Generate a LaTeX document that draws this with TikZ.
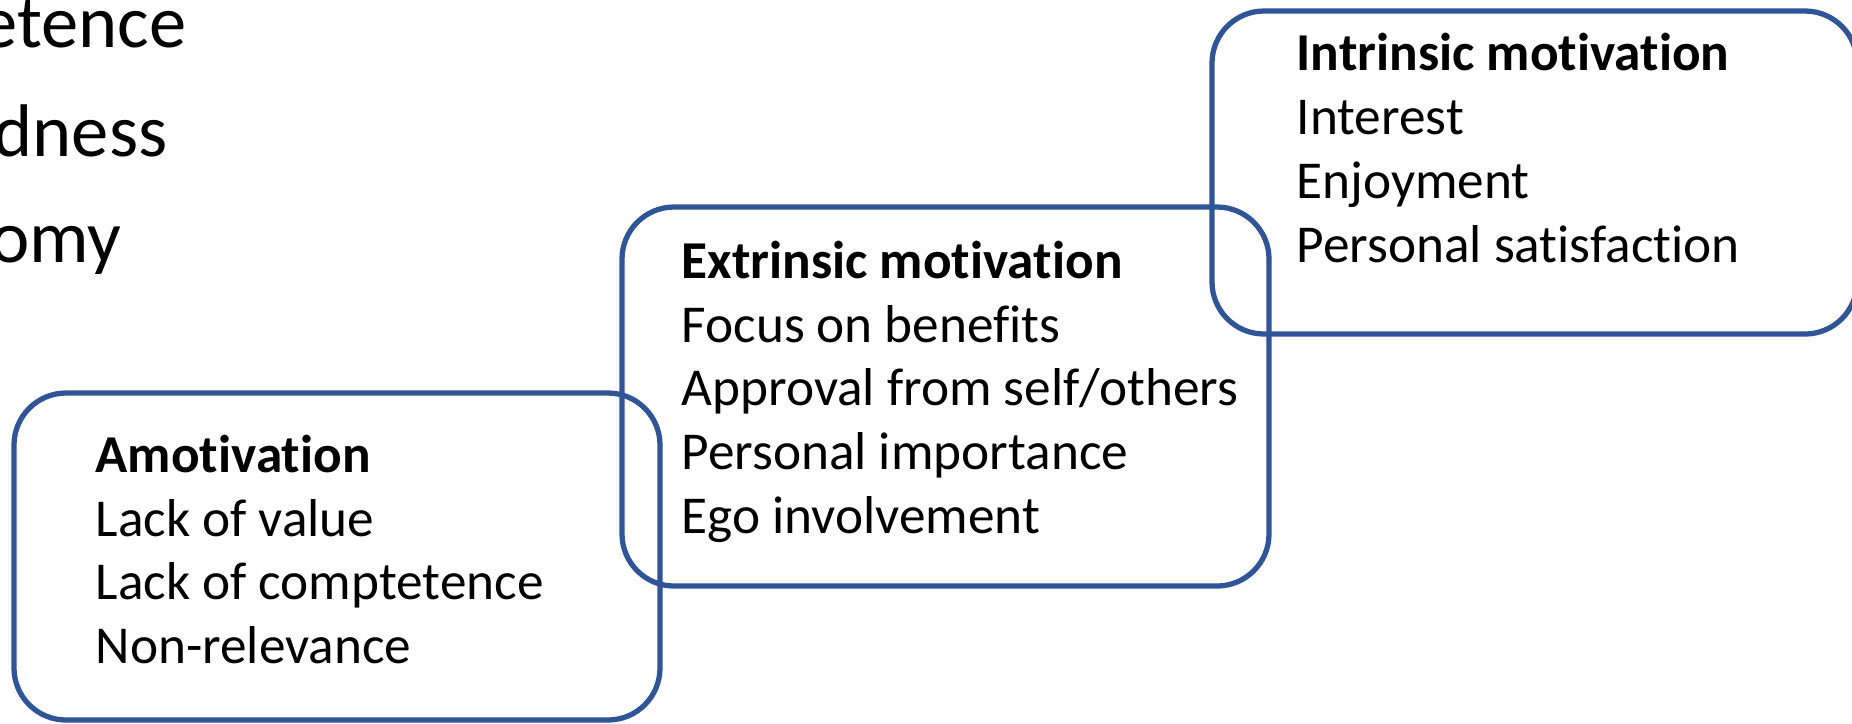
\documentclass[tikz,border=0pt]{standalone}
\usepackage{fontspec}
\setmainfont{Carlito}[Ligatures={TeX,NoCommon}]
\definecolor{panelblue}{HTML}{2F5597}
\tikzset{
	panel/.style={draw=panelblue, line width=1.5pt, rounded corners=0.52cm},
	head/.style={anchor=base west, inner sep=0pt, font=\fontsize{15.15}{18}\selectfont\bfseries},
	item/.style={anchor=base west, inner sep=0pt, font=\fontsize{15.15}{18}\selectfont},
	need/.style={anchor=base east, inner sep=0pt, font=\fontsize{21.2}{25}\selectfont}
}

\begin{document}
\begin{tikzpicture}[x=0.01cm, y=-0.01cm]
		%%%%% FRAME %%%%%
		\useasboundingbox (0, 0) rectangle (1852, 723);
		\clip (0, 0) rectangle (1852, 723);
		
		%%%%% NEEDS (cut at the left edge) %%%%%
		\node[need] (competence) at (187, 47) {Competence};
		\node[need] (relatedness) at (168, 156) {Relatedness};
		\node[need] (autonomy) at (122, 262) {Autonomy};
		
		%%%%% PANELS %%%%%
		\draw[panel] (14, 393) rectangle (660, 720);
		\draw[panel] (622, 207) rectangle (1269, 586);
		\draw[panel] (1212, 11) rectangle (1857, 334);
		
		%%%%% AMOTIVATION %%%%%
		\node[head] (amo) at (95, 472) {Amotivation};
		\node[item] (amo1) at (95, 536) {Lack of value};
		\node[item] (amo2) at (95, 599) {Lack of comptetence};
		\node[item] (amo3) at (95, 663) {Non-relevance};
		
		%%%%% EXTRINSIC %%%%%
		\node[head] (ext) at (681, 278) {Extrinsic motivation};
		\node[item] (ext1) at (681, 342) {Focus on benefits};
		\node[item] (ext2) at (681, 405) {Approval from self/others};
		\node[item] (ext3) at (681, 469) {Personal importance};
		\node[item] (ext4) at (681, 533) {Ego involvement};
		
		%%%%% INTRINSIC %%%%%
		\node[head] (int) at (1296, 70) {Intrinsic motivation};
		\node[item] (int1) at (1296, 134) {Interest};
		\node[item] (int2) at (1296, 198) {Enjoyment};
		\node[item] (int3) at (1296, 262) {Personal satisfaction};
		
\end{tikzpicture}
\end{document}
